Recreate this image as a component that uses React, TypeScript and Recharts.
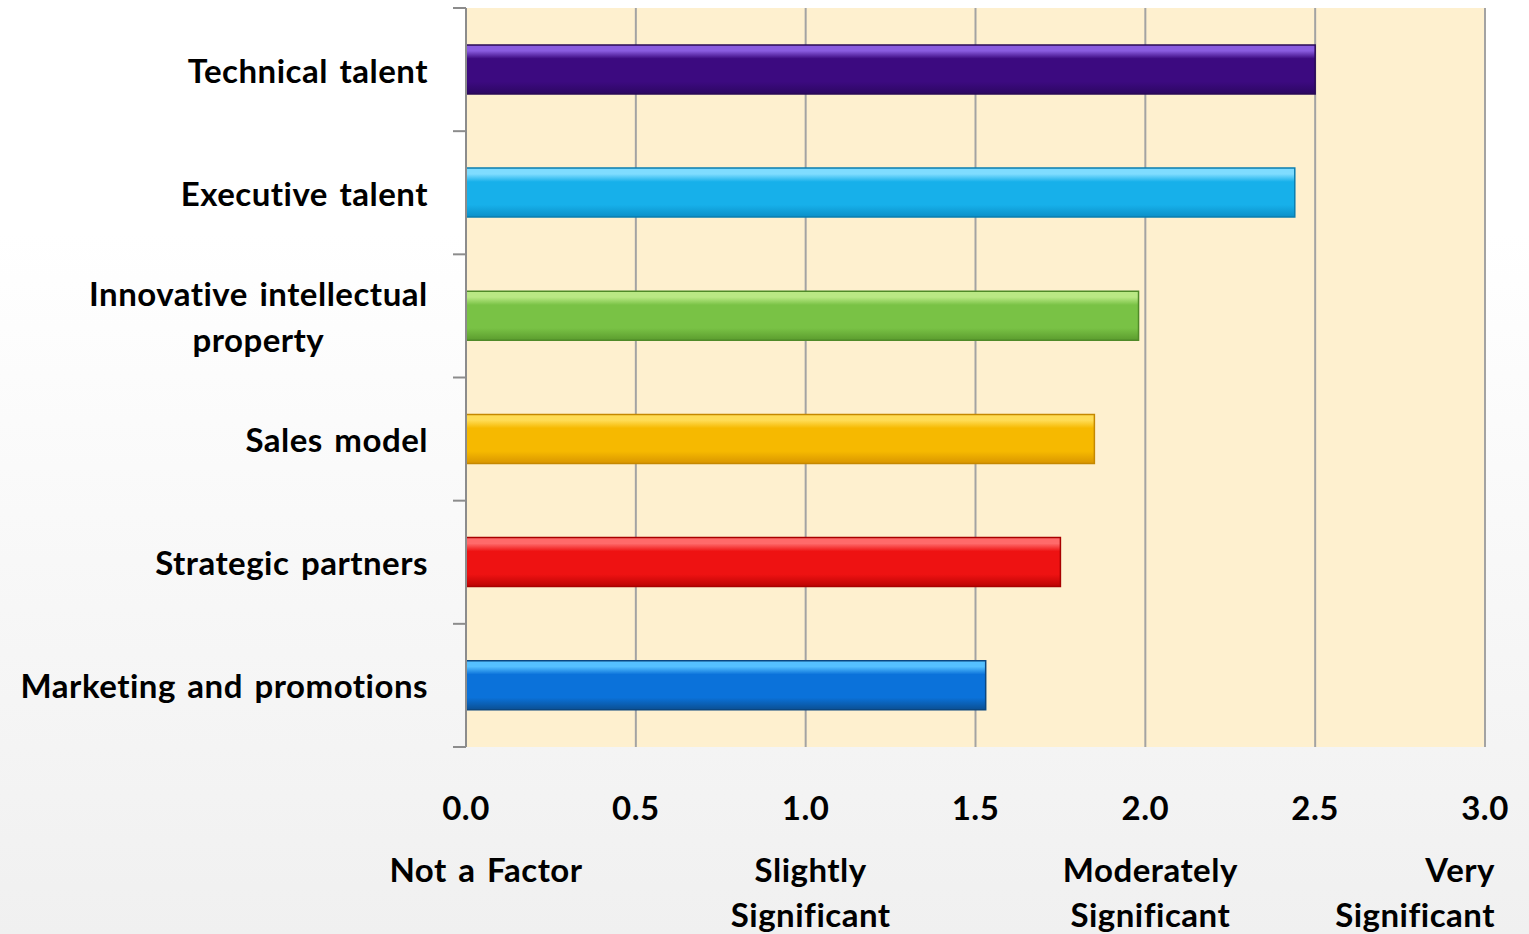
import React from "react";
import { Bar, BarChart, CartesianGrid, Cell, XAxis, YAxis } from "recharts";

const categories = [
  "Technical talent",
  "Executive talent",
  "Innovative intellectual property",
  "Sales model",
  "Strategic partners",
  "Marketing and promotions",
];
const scores = [2.5, 2.44, 1.98, 1.85, 1.75, 1.53];
const scoreTicks = [0, 0.5, 1, 1.5, 2, 2.5, 3];
const scaleTicks = [0, 1, 2, 3];
const scaleLabels = [["Not a Factor"], ["Slightly", "Significant"], ["Moderately", "Significant"], ["Very", "Significant"]];

// top highlight, body, bottom shade, edge
const palette = [
  ["#8a5ce0", "#3c0a80", "#2c0762", "#2a0a56"],
  ["#7fdcff", "#17b0ea", "#0b8fc8", "#0a7db0"],
  ["#b9e884", "#79c245", "#5b9c2e", "#4f8a28"],
  ["#ffdc55", "#f6b900", "#d99600", "#c58800"],
  ["#ff6a6a", "#ee1212", "#bb0303", "#a80000"],
  ["#55c0ff", "#0b72da", "#0b4f92", "#0b4680"],
];

const W = 1529;
const H = 934;
const TOP = 8;
const BOTTOM = 187;
const FONT = "Lato, 'Open Sans', sans-serif";
const FS = 33;
const LS = 0.5;
const WS = 3;

const data = categories.map((name, i) => ({ name, score: scores[i] }));

let ctx: CanvasRenderingContext2D | null = null;
function measure(t: string) {
  if (!ctx) ctx = document.createElement("canvas").getContext("2d");
  const spaces = t.split(" ").length - 1;
  const extra = t.length * LS + spaces * WS;
  if (!ctx) return t.length * FS * 0.55 + extra;
  ctx.font = `bold ${FS}px Lato`;
  return ctx.measureText(t).width + extra;
}

function wrap(t: string, max: number) {
  const words = t.split(" ");
  const lines: string[] = [];
  let cur = "";
  for (const w of words) {
    const next = cur ? cur + " " + w : w;
    if (cur && measure(next) > max) {
      lines.push(cur);
      cur = w;
    } else cur = next;
  }
  lines.push(cur);
  return lines;
}

const band = (H - TOP - BOTTOM) / categories.length;

const textStyle = {
  fontFamily: FONT,
  fontWeight: 700,
  fontSize: FS,
  letterSpacing: LS,
  wordSpacing: WS,
};

function CategoryTick(props: any) {
  const { x, y, payload, index } = props;
  const axisX = x + 38;
  const lines = wrap(payload.value, 420);
  const w0 = measure(lines[0]);
  const cx = x - w0 / 2;
  return (
    <g>
      <line x1={axisX - 13} x2={axisX} y1={y - band / 2} y2={y - band / 2} stroke="#8c8c8c" strokeWidth={2} />
      {index === categories.length - 1 && (
        <line x1={axisX - 13} x2={axisX} y1={y + band / 2} y2={y + band / 2} stroke="#8c8c8c" strokeWidth={2} />
      )}
      {lines.length === 1 ? (
        <text x={x} y={y} textAnchor="end" dominantBaseline="central" style={textStyle} fill="#000">
          {lines[0]}
        </text>
      ) : (
        lines.map((l, i) => (
          <text
            key={i}
            x={cx}
            y={y + (i - (lines.length - 1) / 2) * 46}
            textAnchor="middle"
            dominantBaseline="central"
            style={textStyle}
            fill="#000"
          >
            {l}
          </text>
        ))
      )}
    </g>
  );
}

function ScoreTick(props: any) {
  const { x, y, payload } = props;
  const v = payload.value as number;
  const k = scaleTicks.indexOf(v);
  const lines = k >= 0 ? scaleLabels[k] : [];
  let anchor: "middle" | "end" = "middle";
  let lx = x + 5;
  if (v === 0) lx = x + 20;
  if (v === 3) {
    anchor = "end";
    lx = x + 10;
  }
  return (
    <g style={textStyle} fill="#000">
      <text x={x} y={y + 60} textAnchor="middle" dominantBaseline="central">
        {v.toFixed(1)}
      </text>
      {lines.map((l, i) => (
        <text key={i} x={lx} y={y + 122 + i * 45} textAnchor={anchor} dominantBaseline="central">
          {l}
        </text>
      ))}
    </g>
  );
}

export default function App() {
  return (
    <div
      style={{
        position: "absolute",
        left: 0,
        top: 0,
        width: W,
        height: H,
        background: "linear-gradient(to bottom, #ffffff 0%, #ffffff 25%, #f0f0f0 100%)",
      }}
    >
      <BarChart
        width={W}
        height={H}
        data={data}
        layout="vertical"
        margin={{ top: TOP, right: 44, bottom: 0, left: 0 }}
        barCategoryGap="30%"
      >
        <defs>
          {palette.map((c, i) => (
            <linearGradient key={i} id={`bar${i}`} x1="0" y1="0" x2="0" y2="1">
              <stop offset="0" stopColor={c[0]} />
              <stop offset="0.12" stopColor={c[0]} />
              <stop offset="0.28" stopColor={c[1]} />
              <stop offset="0.75" stopColor={c[1]} />
              <stop offset="1" stopColor={c[2]} />
            </linearGradient>
          ))}
        </defs>
        <CartesianGrid horizontal={false} stroke="#a3a3a3" strokeWidth={2} fill="#fef0cf" fillOpacity={1} />
        <XAxis
          type="number"
          dataKey="score"
          domain={[0, 3]}
          ticks={scoreTicks}
          interval={0}
          axisLine={false}
          tickLine={false}
          tickSize={0}
          tickMargin={0}
          height={BOTTOM}
          tick={<ScoreTick />}
        />
        <YAxis
          type="category"
          dataKey="name"
          width={466}
          tickSize={13}
          tickMargin={25}
          tickLine={false}
          axisLine={{ stroke: "#8c8c8c", strokeWidth: 2 }}
          interval={0}
          tick={<CategoryTick />}
        />
        <Bar dataKey="score" isAnimationActive={false}>
          {data.map((_, i) => (
            <Cell key={i} fill={`url(#bar${i})`} stroke={palette[i][3]} strokeWidth={1.5} />
          ))}
        </Bar>
      </BarChart>
    </div>
  );
}
